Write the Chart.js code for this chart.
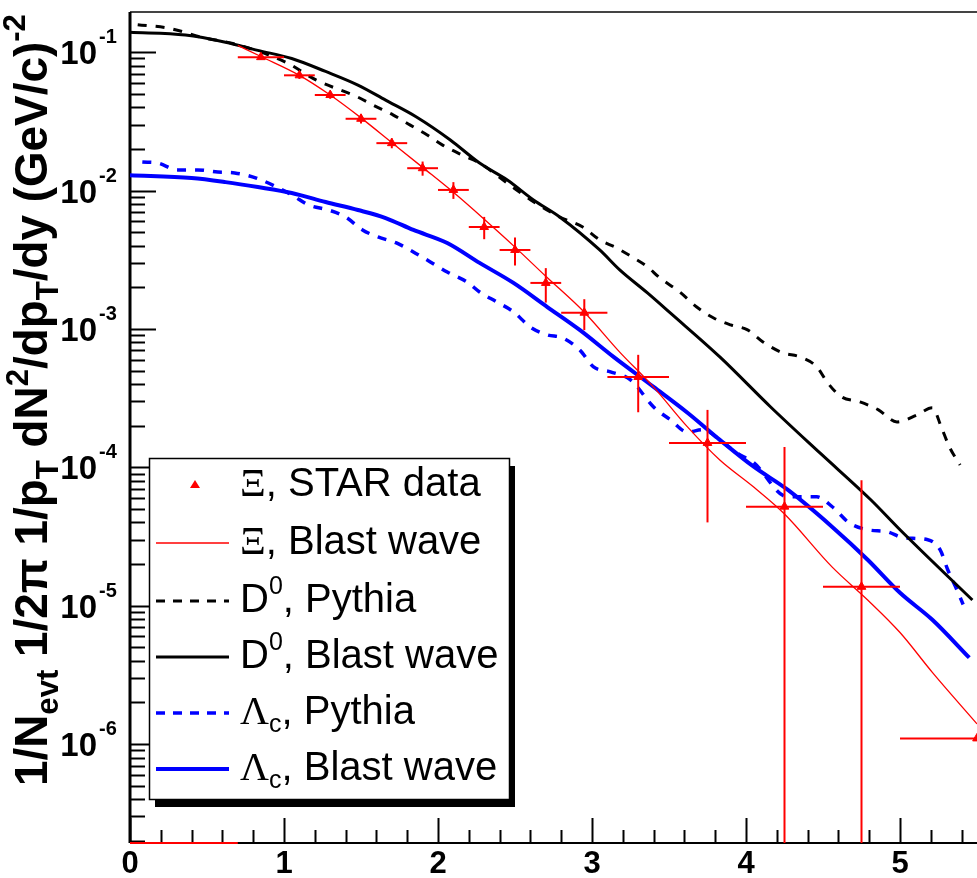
<!DOCTYPE html>
<html>
<head>
<meta charset="utf-8">
<script src="https://cdn.jsdelivr.net/npm/chart.js@4.4.0/dist/chart.umd.min.js"></script>
<style>
  html, body { margin: 0; padding: 0; background: #fff; overflow: hidden; }
</style>
</head>
<body>
<canvas id="c" width="977" height="878"></canvas>
<script>
// axis ranges
const xMin = 0, xMax = 5.5;
const yMin = 1.93e-7, yMax = 0.195;
const xTickLabels = ['0', '1', '2', '3', '4', '5'];
const yDecades = [-1, -2, -3, -4, -5, -6];

// Xi, STAR data
const xiPt     = [0.85, 1.1, 1.3, 1.5, 1.7, 1.9, 2.1, 2.3, 2.5, 2.7, 2.95, 3.3, 3.75, 4.25, 4.75, 5.5];
const xiVal    = [0.092, 0.068, 0.049, 0.033, 0.022, 0.0145, 0.0101, 0.00545, 0.00372, 0.00215, 0.00131, 4.5e-4, 1.5e-4, 5.2e-5, 1.37e-5, 1.1e-6];
const xiPtErr  = [0.15, 0.1, 0.1, 0.1, 0.1, 0.1, 0.1, 0.1, 0.1, 0.1, 0.15, 0.2, 0.25, 0.25, 0.25, 0.5];
const xiValErr = [0.004, 0.004, 0.003, 0.0025, 0.0018, 0.0017, 0.0014, 0.001, 0.00085, 0.0006, 0.00033, 2e-4, 1.1e-4, 8.8e-5, 6.7e-5, 0];
// red stub drawn on the x axis below 0.7
const xiLowPt = [0, 0.7];

// Xi, blast wave
const xiBwPt  = [0.7, 0.85, 1.1, 1.3, 1.5, 1.7, 1.9, 2.1, 2.3, 2.5, 2.7, 2.95, 3.18, 3.4, 3.62, 3.83, 4.05, 4.25, 4.56, 4.79, 5.0, 5.21, 5.5];
const xiBwVal = [0.112, 0.093, 0.068, 0.049, 0.0335, 0.0222, 0.0147, 0.0097, 0.0062, 0.0039, 0.0024, 0.00132, 6.8e-4, 3.8e-4, 1.96e-4, 1.13e-4, 7.2e-5, 4.6e-5, 1.9e-5, 1.1e-5, 6.4e-6, 3.3e-6, 1.4e-6];

// D0, Pythia
const d0PyPt  = [0.05, 0.25, 0.49, 0.66, 1.01, 1.21, 1.48, 1.58, 1.71, 1.82, 1.93, 2.03, 2.16, 2.27, 2.45, 2.62, 2.79, 2.94, 3.05, 3.16, 3.27, 3.36, 3.44, 3.57, 3.68, 3.79, 3.90, 4.01, 4.11, 4.24, 4.35, 4.46, 4.53, 4.62, 4.74, 4.86, 4.98, 5.11, 5.21, 5.27, 5.32, 5.39];
const d0PyVal = [0.158, 0.149, 0.126, 0.116, 0.0847, 0.0628, 0.0473, 0.0414, 0.0351, 0.0297, 0.0252, 0.0213, 0.018, 0.0158, 0.0113, 0.0083, 0.00644, 0.00545, 0.0044, 0.00385, 0.00326, 0.00281, 0.00234, 0.00185, 0.00144, 0.0012, 0.00107, 9.84e-4, 8.06e-4, 6.71e-4, 6.28e-4, 5.32e-4, 4.08e-4, 3.23e-4, 2.97e-4, 2.6e-4, 2.13e-4, 2.39e-4, 2.69e-4, 1.93e-4, 1.41e-4, 1.04e-4];

// D0, blast wave
const d0BwPt  = [0, 0.36, 0.62, 0.83, 1.05, 1.27, 1.48, 1.66, 1.86, 2.08, 2.27, 2.45, 2.62, 2.79, 3.05, 3.18, 3.36, 3.51, 3.83, 4.16, 4.48, 4.81, 5.0, 5.47];
const d0BwVal = [0.139, 0.133, 0.118, 0.103, 0.09, 0.0725, 0.0578, 0.045, 0.034, 0.0232, 0.0158, 0.0119, 0.00854, 0.00644, 0.00372, 0.00267, 0.00182, 0.0013, 6.28e-4, 2.73e-4, 1.27e-4, 5.83e-5, 3.54e-5, 1.1e-5];

// Lambda_c, Pythia
const lcPyPt  = [0.08, 0.18, 0.31, 0.44, 0.57, 0.68, 0.82, 1.05, 1.16, 1.29, 1.40, 1.51, 1.61, 1.73, 1.84, 1.95, 2.06, 2.19, 2.27, 2.38, 2.49, 2.60, 2.71, 2.81, 2.92, 3.01, 3.12, 3.25, 3.40, 3.51, 3.62, 3.72, 3.83, 3.94, 4.05, 4.27, 4.35, 4.46, 4.56, 4.67, 4.79, 4.92, 5.02, 5.18, 5.26, 5.31, 5.37, 5.41];
const lcPyVal = [0.0161, 0.0158, 0.0141, 0.0141, 0.0136, 0.0134, 0.0123, 0.0093, 0.00786, 0.00723, 0.00644, 0.00519, 0.00462, 0.00418, 0.0036, 0.00305, 0.00258, 0.00218, 0.00185, 0.00157, 0.00133, 0.00103, 9.06e-4, 8.61e-4, 7.05e-4, 5.32e-4, 4.9e-4, 4.29e-4, 2.73e-4, 2.2e-4, 1.8e-4, 1.87e-4, 1.58e-4, 1.27e-4, 1.08e-4, 6.12e-5, 6.12e-5, 6.12e-5, 5.19e-5, 3.97e-5, 3.54e-5, 3.42e-5, 3.1e-5, 3.0e-5, 2.54e-5, 1.82e-5, 1.3e-5, 1.02e-5];

// Lambda_c, blast wave
const lcBwPt  = [0, 0.40, 0.62, 0.83, 1.05, 1.27, 1.48, 1.66, 1.84, 2.06, 2.27, 2.49, 2.71, 2.92, 3.14, 3.40, 3.62, 3.83, 4.05, 4.27, 4.56, 4.79, 5.0, 5.21, 5.45];
const lcBwVal = [0.0129, 0.0123, 0.0115, 0.0106, 0.0096, 0.00826, 0.00723, 0.00633, 0.00519, 0.00418, 0.003, 0.00215, 0.00144, 9.84e-4, 6.28e-4, 3.81e-4, 2.48e-4, 1.58e-4, 1.01e-4, 6.89e-5, 3.71e-5, 2.15e-5, 1.24e-5, 7.92e-6, 4.21e-6];

const pts = (xs, ys) => xs.map((x, i) => ({ x: x, y: ys[i] }));

const SANS = "'Liberation Sans', Arial, sans-serif";
const SERIF = "'Liberation Serif', 'Times New Roman', serif";

function line(ctx, x1, y1, x2, y2) {
  ctx.beginPath(); ctx.moveTo(x1, y1); ctx.lineTo(x2, y2); ctx.stroke();
}

// draws a run of text pieces (for sub/superscripts), returns end x
function drawRich(ctx, x, y, segs) {
  segs.forEach(s => {
    ctx.font = s.font;
    ctx.fillText(s.t, x, y + (s.dy || 0));
    x += ctx.measureText(s.t).width;
  });
  return x;
}

const rootStyle = {
  id: 'rootStyle',
  beforeDatasetsDraw(chart) {
    const ctx = chart.ctx, a = chart.chartArea;
    const xs = chart.scales.x, ys = chart.scales.y;
    ctx.save();
    // frame
    ctx.lineWidth = 2;
    ctx.strokeStyle = '#444';
    line(ctx, a.left, a.top, a.right, a.top);
    ctx.strokeStyle = '#000';
    ctx.lineWidth = 3;
    line(ctx, a.left, a.top, a.left, a.bottom);
    ctx.lineWidth = 2;
    line(ctx, a.left, a.bottom, a.right, a.bottom);
    // y ticks, inside the frame
    ctx.lineWidth = 2;
    for (let e = -7; e <= -1; e++) {
      for (let m = 1; m <= 9; m++) {
        const v = m * Math.pow(10, e);
        if (v < yMin || v > yMax) continue;
        const py = Math.round(ys.getPixelForValue(v)) + 0.5;
        line(ctx, a.left, py, a.left + (m === 1 ? 26 : 15), py);
      }
    }
    // x ticks every 0.2
    for (let i = 0; i * 0.2 <= xMax + 1e-9; i++) {
      const px = Math.round(xs.getPixelForValue(i * 0.2)) + 0.5;
      line(ctx, px, a.bottom, px, a.bottom - (i % 5 === 0 ? 25 : 13));
    }
    // tick labels
    ctx.fillStyle = '#000';
    ctx.textBaseline = 'alphabetic';
    ctx.font = 'bold 31px ' + SANS;
    ctx.textAlign = 'center';
    xTickLabels.forEach((t, i) => {
      ctx.fillText(t, xs.getPixelForValue(i), 873);
    });
    yDecades.forEach(e => {
      const py = ys.getPixelForValue(Math.pow(10, e));
      ctx.textAlign = 'right';
      ctx.font = 'bold 33px ' + SANS;
      ctx.fillText('10', 97, py + 12);
      ctx.textAlign = 'left';
      ctx.font = 'bold 20px ' + SANS;
      ctx.fillText(String(e), 99, py - 9);
    });
    // y title
    ctx.textAlign = 'left';
    let B = 26;
    const mk = b => [
      { t: '1/N', font: `bold ${b}px ${SANS}` },
      { t: 'evt', font: `bold ${b * 0.68}px ${SANS}`, dy: b * 0.25 },
      { t: ' 1/2\u03c0 1/p', font: `bold ${b}px ${SANS}` },
      { t: 'T', font: `bold ${b * 0.68}px ${SANS}`, dy: b * 0.25 },
      { t: ' dN', font: `bold ${b}px ${SANS}` },
      { t: '2', font: `bold ${b * 0.68}px ${SANS}`, dy: -b * 0.42 },
      { t: '/dp', font: `bold ${b}px ${SANS}` },
      { t: 'T', font: `bold ${b * 0.68}px ${SANS}`, dy: b * 0.25 },
      { t: '/dy (GeV/c)', font: `bold ${b}px ${SANS}` },
      { t: '-2', font: `bold ${b * 0.68}px ${SANS}`, dy: -b * 0.48 }
    ];
    let w = 0;
    mk(B).forEach(s => { ctx.font = s.font; w += ctx.measureText(s.t).width; });
    B = B * 772 / w;
    ctx.translate(47, 786);
    ctx.rotate(-Math.PI / 2);
    drawRich(ctx, 0, 0, mk(B));
    ctx.restore();
  },
  afterDatasetsDraw(chart) {
    const ctx = chart.ctx, a = chart.chartArea;
    const xs = chart.scales.x, ys = chart.scales.y;
    ctx.save();
    ctx.beginPath();
    ctx.rect(a.left, a.top, a.right - a.left, a.bottom - a.top);
    ctx.clip();
    ctx.strokeStyle = 'rgb(255,0,0)';
    ctx.lineWidth = 2;
    xiPt.forEach((x, i) => {
      const px = xs.getPixelForValue(x), py = ys.getPixelForValue(xiVal[i]);
      line(ctx, xs.getPixelForValue(x - xiPtErr[i]), py, xs.getPixelForValue(x + xiPtErr[i]), py);
      if (xiValErr[i] > 0) {
        const lo = xiVal[i] - xiValErr[i];
        const pyLo = lo > 0 ? ys.getPixelForValue(lo) : a.bottom + 5;
        line(ctx, px, ys.getPixelForValue(xiVal[i] + xiValErr[i]), px, pyLo);
      }
    });
    ctx.restore();
  },
  afterDraw(chart) {
    const ctx = chart.ctx;
    ctx.save();
    // legend box with shadow
    const bx = 149, by = 458, bw = 360, bh = 341;
    ctx.fillStyle = '#000';
    ctx.fillRect(bx + 6, by + 8, bw, bh);
    ctx.fillStyle = '#fff';
    ctx.fillRect(bx, by, bw, bh);
    ctx.strokeStyle = '#000';
    ctx.lineWidth = 1.5;
    ctx.strokeRect(bx + 0.5, by + 0.5, bw, bh);

    const F = 40, fs = 25;
    const rowY = [496, 554, 612, 668, 724, 780];
    const tx = 240, l1 = 156, l2 = 229;
    const rows = [
      { segs: [{ t: '\u039e', font: `${F}px ${SERIF}` }, { t: ', STAR data', font: `${F}px ${SANS}` }], marker: true },
      { segs: [{ t: '\u039e', font: `${F}px ${SERIF}` }, { t: ', Blast wave', font: `${F}px ${SANS}` }], color: 'rgb(255,0,0)', w: 1.5 },
      { segs: [{ t: 'D', font: `${F}px ${SANS}` }, { t: '0', font: `${fs}px ${SANS}`, dy: -18 }, { t: ', Pythia', font: `${F}px ${SANS}` }], color: '#000', w: 3, dash: [9, 8] },
      { segs: [{ t: 'D', font: `${F}px ${SANS}` }, { t: '0', font: `${fs}px ${SANS}`, dy: -18 }, { t: ', Blast wave', font: `${F}px ${SANS}` }], color: '#000', w: 3 },
      { segs: [{ t: '\u039b', font: `${F}px ${SERIF}` }, { t: 'c', font: `${fs}px ${SANS}`, dy: 8 }, { t: ', Pythia', font: `${F}px ${SANS}` }], color: 'rgb(0,0,255)', w: 3.5, dash: [9, 8] },
      { segs: [{ t: '\u039b', font: `${F}px ${SERIF}` }, { t: 'c', font: `${fs}px ${SANS}`, dy: 8 }, { t: ', Blast wave', font: `${F}px ${SANS}` }], color: 'rgb(0,0,255)', w: 4 }
    ];
    ctx.fillStyle = '#000';
    ctx.textAlign = 'left';
    rows.forEach((r, i) => {
      const y = rowY[i];
      if (r.marker) {
        ctx.fillStyle = 'rgb(255,0,0)';
        ctx.beginPath();
        ctx.moveTo(195, y - 16); ctx.lineTo(200, y - 8); ctx.lineTo(190, y - 8);
        ctx.closePath(); ctx.fill();
        ctx.fillStyle = '#000';
      } else {
        ctx.strokeStyle = r.color;
        ctx.lineWidth = r.w;
        ctx.setLineDash(r.dash || []);
        line(ctx, l1, y - 11, l2, y - 11);
        ctx.setLineDash([]);
      }
      drawRich(ctx, tx, y, r.segs);
    });
    ctx.restore();
  }
};

const curve = { showLine: true, pointRadius: 0, cubicInterpolationMode: 'monotone' };

new Chart(document.getElementById('c'), {
  type: 'scatter',
  data: {
    datasets: [
      {
        label: '\u039e, STAR data',
        data: pts(xiPt, xiVal),
        pointStyle: 'triangle',
        pointRadius: 5,
        backgroundColor: 'rgb(255,0,0)',
        borderColor: 'rgb(255,0,0)',
        borderWidth: 1,
        showLine: false
      },
      Object.assign({
        label: '\u039e, Blast wave',
        data: pts(xiBwPt, xiBwVal),
        borderColor: 'rgb(255,0,0)', borderWidth: 1.3
      }, curve),
      Object.assign({
        label: 'D0, Pythia',
        data: pts(d0PyPt, d0PyVal),
        borderColor: '#000', borderWidth: 3, borderDash: [9, 9]
      }, curve),
      Object.assign({
        label: 'D0, Blast wave',
        data: pts(d0BwPt, d0BwVal),
        borderColor: '#000', borderWidth: 3
      }, curve),
      Object.assign({
        label: 'Lc, Pythia',
        data: pts(lcPyPt, lcPyVal),
        borderColor: 'rgb(0,0,255)', borderWidth: 3.5, borderDash: [9, 9]
      }, curve),
      Object.assign({
        label: 'Lc, Blast wave',
        data: pts(lcBwPt, lcBwVal),
        borderColor: 'rgb(0,0,255)', borderWidth: 4
      }, curve),
      {
        label: 'low',
        data: xiLowPt.map(x => ({ x: x, y: yMin })),
        showLine: true, pointRadius: 0, clip: false,
        borderColor: 'rgb(255,0,0)', borderWidth: 2
      }
    ]
  },
  options: {
    responsive: false,
    animation: false,
    devicePixelRatio: 1,
    layout: { autoPadding: false, padding: { left: 130, top: 12, right: 0, bottom: 35 } },
    plugins: { legend: { display: false }, tooltip: { enabled: false } },
    scales: {
      x: { type: 'linear', min: xMin, max: xMax, bounds: 'data', display: false },
      y: { type: 'logarithmic', min: yMin, max: yMax, bounds: 'data', display: false }
    }
  },
  plugins: [rootStyle]
});
</script>
</body>
</html>
